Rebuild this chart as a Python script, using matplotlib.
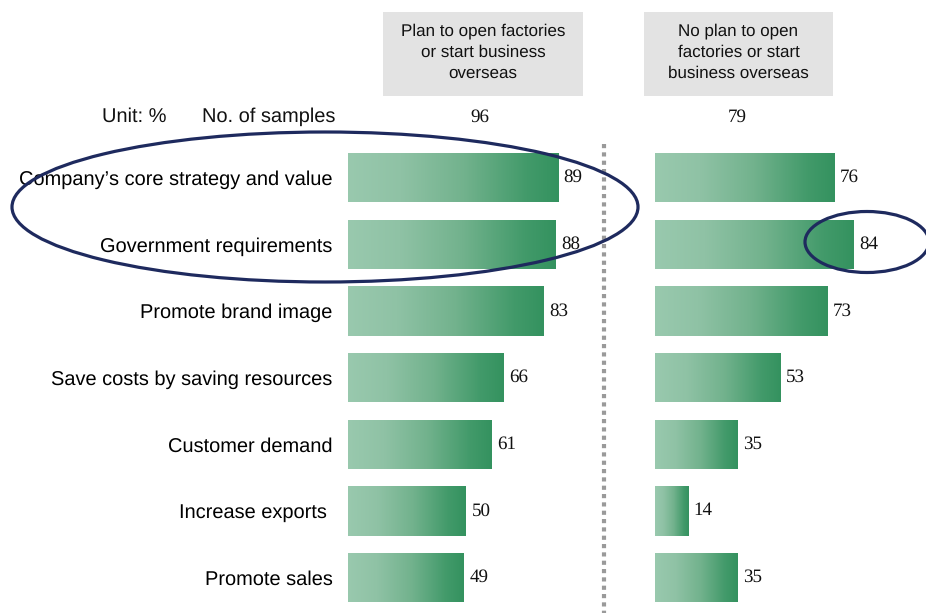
import numpy as np
import matplotlib
matplotlib.use("Agg")
import matplotlib.pyplot as plt
from matplotlib.colors import LinearSegmentedColormap
from matplotlib.patches import Ellipse, Rectangle

plt.rcParams["text.hinting"] = "no_hinting"
plt.rcParams["text.hinting_factor"] = 1

# ---- data -------------------------------------------------------------
categories = [
    "Company\u2019s core strategy and value",
    "Government requirements",
    "Promote brand image",
    "Save costs by saving resources",
    "Customer demand",
    "Increase exports ",
    "Promote sales",
]
plan_values = [89, 88, 83, 66, 61, 50, 49]
no_plan_values = [76, 84, 73, 53, 35, 14, 35]
group_titles = [
    "Plan to open factories\nor start business\noverseas",
    "No plan to open\nfactories or start\nbusiness overseas",
]
sample_sizes = [96, 79]

# ---- styling ----------------------------------------------------------
W, H = 926, 613
SANS = ["Liberation Sans", "DejaVu Sans"]
SERIF = ["Liberation Serif", "DejaVu Serif"]
NAVY = "#1e2a5e"
LABEL_FS = 14.5
NUM_FS = 13.5
bar_cmap = LinearSegmentedColormap.from_list(
    "greens",
    [(0.0, "#99c9ae"), (0.25, "#8fc2a5"), (0.55, "#72b28d"),
     (0.85, "#429a6a"), (1.0, "#34925f")],
)

fig = plt.figure(figsize=(W / 100, H / 100), dpi=100)


def fx(px):
    return px / W


def fy(py):
    return 1 - py / H


# rows: centre of first row at y=177 px, pitch 66.7 px
pitch = 66.67
first = 177.5
n = len(categories)
y_top = first - pitch / 2
y_bot = first + pitch * (n - 1) + pitch / 2
bar_h = 0.74
px_per_unit = 2.36


def make_panel(left_px, values, show_labels):
    ax = fig.add_axes([fx(left_px), fy(y_bot), 100 * px_per_unit / W,
                       (y_bot - y_top) / H])
    ax.patch.set_alpha(0)
    y = np.arange(n)
    bars = ax.barh(y, values, height=bar_h, color="none", edgecolor="none")
    grad = np.linspace(0, 1, 256).reshape(1, -1)
    for rect, v, yy in zip(bars.patches, values, y):
        im = ax.imshow(grad, cmap=bar_cmap, aspect="auto",
                       extent=[0, v, yy + bar_h / 2, yy - bar_h / 2],
                       interpolation="bilinear", zorder=2)
        im.set_clip_path(rect)
    ax.set_xlim(0, 100)
    ax.set_ylim(n - 0.5, -0.5)
    ax.bar_label(bars, labels=[str(v) for v in values], padding=4,
                 fontsize=NUM_FS, family=SERIF, color="#111111")
    for s in ax.spines.values():
        s.set_visible(False)
    ax.set_xticks([])
    if show_labels:
        ax.set_yticks(y, categories, family=SANS, fontsize=LABEL_FS)
        ax.tick_params(axis="y", length=0, pad=11)
    else:
        ax.set_yticks([])
    return ax


make_panel(348, plan_values, True)
make_panel(655, no_plan_values, False)

# ---- overlay for headers, divider and highlight ellipses ---------------
ov = fig.add_axes([0, 0, 1, 1])
ov.set_xlim(0, W)
ov.set_ylim(H, 0)
ov.axis("off")
ov.patch.set_alpha(0)

# group header boxes
for (x0, x1), title in zip([(383, 583), (644, 833)], group_titles):
    ov.add_patch(Rectangle((x0, 12), x1 - x0, 84, facecolor="#e3e3e3",
                           edgecolor="none"))
    ov.text((x0 + x1) / 2, 52, title, ha="center", va="center",
            family=SANS, fontsize=12.5, linespacing=1.45, color="#111111")

# sample-size row
ov.text(102, 117, "Unit: %", ha="left", va="center", family=SANS,
        fontsize=LABEL_FS, color="#111111")
ov.text(202, 117, "No. of samples", ha="left", va="center", family=SANS,
        fontsize=LABEL_FS, color="#111111")
for xc, s in zip([480, 737], sample_sizes):
    ov.text(xc, 117, str(s), ha="center", va="center", family=SERIF,
            fontsize=NUM_FS, color="#111111")

# dotted divider between the two groups
ov.plot([604, 604], [144, H], color="#9a9a9a", lw=3,
        linestyle=(0, (1, 1)), solid_capstyle="butt")

# highlight ellipses
ov.add_patch(Ellipse((325, 207), 626, 150, fill=False, edgecolor=NAVY,
                     lw=2.3, zorder=5))
ov.add_patch(Ellipse((867, 242), 124, 61, fill=False, edgecolor=NAVY,
                     lw=2.3, zorder=5))

fig.savefig("out.png", dpi=100, facecolor="white")
